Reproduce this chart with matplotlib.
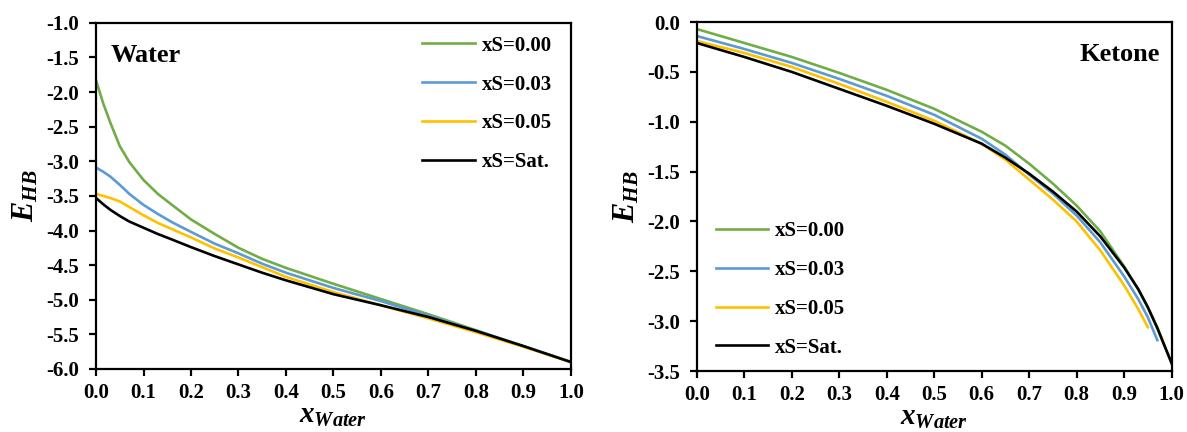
import matplotlib
matplotlib.use("Agg")
import matplotlib.pyplot as plt

plt.rcParams["font.family"] = ["Liberation Serif", "DejaVu Serif"]
plt.rcParams["font.weight"] = "bold"
plt.rcParams["mathtext.fontset"] = "custom"
plt.rcParams["mathtext.it"] = "Liberation Serif:italic:bold"
plt.rcParams["mathtext.rm"] = "Liberation Serif:bold"

GREEN, BLUE, YELLOW, BLACK = "#70AD47", "#5B9BD5", "#FFC000", "#000000"
LABELS = ["xS=0.00", "xS=0.03", "xS=0.05", "xS=Sat."]

# Water panel
x_w = [0, 0.015, 0.03, 0.05, 0.07, 0.1, 0.13, 0.16, 0.2, 0.25, 0.3, 0.35, 0.4,
       0.5, 0.6, 0.7, 0.8, 0.9, 1.0]
w_s000 = [-1.83, -2.16, -2.44, -2.78, -3.01, -3.27, -3.47, -3.63, -3.84, -4.05, -4.25,
          -4.41, -4.54, -4.77, -4.99, -5.21, -5.44, -5.67, -5.90]
w_s003 = [-3.09, -3.15, -3.22, -3.34, -3.47, -3.63, -3.76, -3.88, -4.02, -4.19, -4.33,
          -4.48, -4.61, -4.83, -5.02, -5.23, -5.45, -5.67, -5.90]
w_s005 = [-3.47, -3.50, -3.53, -3.58, -3.66, -3.78, -3.89, -3.98, -4.10, -4.26, -4.39,
          -4.53, -4.67, -4.89, -5.08, -5.27, -5.47, -5.68, -5.90]
w_sat = [-3.53, -3.62, -3.70, -3.79, -3.87, -3.96, -4.05, -4.13, -4.24, -4.37, -4.49,
         -4.61, -4.72, -4.92, -5.08, -5.25, -5.45, -5.67, -5.90]

# Ketone panel
x_k = [0, 0.1, 0.2, 0.3, 0.4, 0.5, 0.6, 0.65, 0.7, 0.75, 0.8, 0.85, 0.9, 0.93, 0.95, 0.97, 1.0]
k_s000 = [-0.07, -0.21, -0.35, -0.51, -0.68, -0.87, -1.10, -1.24, -1.42, -1.62, -1.84,
          -2.10, -2.45, -2.68, -2.86, -3.06, -3.42]
x_k003 = [0, 0.1, 0.2, 0.3, 0.4, 0.5, 0.6, 0.65, 0.7, 0.75, 0.8, 0.85, 0.9, 0.93, 0.95, 0.97]
k_s003 = [-0.14, -0.27, -0.41, -0.57, -0.74, -0.93, -1.17, -1.33, -1.53, -1.72, -1.94,
          -2.21, -2.55, -2.78, -2.96, -3.19]
x_k005 = [0, 0.1, 0.2, 0.3, 0.4, 0.5, 0.6, 0.65, 0.7, 0.75, 0.8, 0.85, 0.9, 0.93, 0.95]
k_s005 = [-0.19, -0.31, -0.45, -0.62, -0.80, -0.99, -1.22, -1.38, -1.58, -1.78, -2.00,
          -2.29, -2.64, -2.88, -3.06]
k_sat = [-0.21, -0.35, -0.50, -0.67, -0.84, -1.02, -1.22, -1.36, -1.52, -1.70, -1.90,
         -2.15, -2.46, -2.68, -2.86, -3.07, -3.42]


def style(ax, ylim, yticks):
    ax.set_xlim(0, 1)
    ax.set_ylim(*ylim)
    ax.set_xticks([i / 10 for i in range(11)])
    ax.set_xticklabels([f"{i / 10:.1f}" for i in range(11)])
    ax.set_yticks(yticks)
    ax.set_yticklabels([f"{v:.1f}" for v in yticks])
    for s in ax.spines.values():
        s.set_linewidth(1.6)
    ax.tick_params(direction="out", length=5, width=1.6, labelsize=15)
    ax.tick_params(axis="y", pad=7)
    ax.tick_params(axis="x", pad=5)
    for lab in ax.get_xticklabels() + ax.get_yticklabels():
        lab.set_fontweight("bold")
    ax.set_xlabel(r"$x_{Water}$", fontsize=21, labelpad=0)
    ax.set_ylabel(r"$E_{HB}$", fontsize=22, labelpad=4)


fig = plt.figure(figsize=(11.87, 4.32), dpi=100)
ax1 = fig.add_axes([0.0809, 0.146, 0.400, 0.801])
ax2 = fig.add_axes([0.587, 0.141, 0.400, 0.808])

lw = 1.9
ax1.plot(x_w, w_s000, color=GREEN, lw=lw, label=LABELS[0])
ax1.plot(x_w, w_s003, color=BLUE, lw=lw, label=LABELS[1])
ax1.plot(x_w, w_s005, color=YELLOW, lw=lw, label=LABELS[2])
ax1.plot(x_w, w_sat, color=BLACK, lw=lw, label=LABELS[3])
style(ax1, (-6.0, -1.0), [-6.0 + 0.5 * i for i in range(11)])
ax1.text(0.03, 0.94, "Water", transform=ax1.transAxes, fontsize=19, weight="bold", va="top")
ax1.legend(loc="upper right", bbox_to_anchor=(1.0, 1.017), frameon=False, fontsize=15,
           handlelength=2.5, labelspacing=0.9, handletextpad=0.35)

ax2.plot(x_k, k_s000, color=GREEN, lw=lw, label=LABELS[0])
ax2.plot(x_k003, k_s003, color=BLUE, lw=lw, label=LABELS[1])
ax2.plot(x_k005, k_s005, color=YELLOW, lw=lw, label=LABELS[2])
ax2.plot(x_k, k_sat, color=BLACK, lw=lw, label=LABELS[3])
style(ax2, (-3.5, 0.0), [-3.5 + 0.5 * i for i in range(8)])
ax2.text(0.975, 0.94, "Ketone", transform=ax2.transAxes, fontsize=19, weight="bold", va="top", ha="right")
ax2.legend(loc="lower left", bbox_to_anchor=(0.001, -0.015), frameon=False, fontsize=15,
           handlelength=2.5, labelspacing=0.9, handletextpad=0.35)

fig.savefig("out.png", dpi=100, facecolor="white")
